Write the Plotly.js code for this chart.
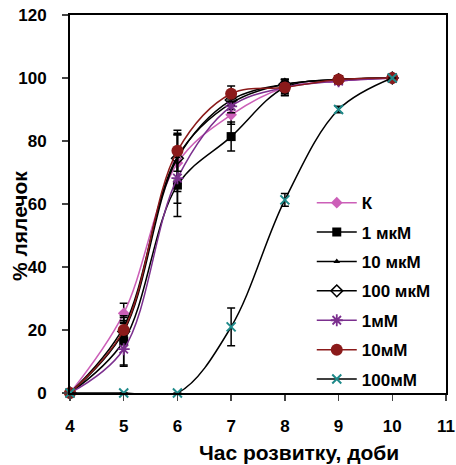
<!DOCTYPE html>
<html>
<head>
<meta charset="utf-8">
<script src="https://cdn.plot.ly/plotly-3.0.1.min.js"></script>
<style>html,body{margin:0;padding:0;background:#fff}#chart{width:456px;height:465px}</style>
</head>
<body>
<div id="chart"></div>
<script>
// Data
const days = [4, 5, 6, 7, 8, 9, 10];
const seriesNames = ['К', '1 мкМ', '10 мкМ', '100 мкМ', '1мМ', '10мМ', '100мМ'];
const valK      = [0, 25.3, 73, 88.3, 97, 99, 100];
const errK      = [0, 3.2, 9, 3, 2, 1, 0];
const val1mkM   = [0, 16.5, 66, 81.4, 97, 99.5, 100];
const err1mkM   = [0, 8, 10, 4.6, 2.5, 1, 0];
const val10mkM  = [0, 21, 75, 92, 98, 99.5, 100];
const err10mkM  = [0, 3, 7, 2, 1.5, 1, 0];
const val100mkM = [0, 19.5, 74.5, 93, 98, 99.5, 100];
const err100mkM = [0, 3, 8, 2, 1.5, 1, 0];
const val1mM    = [0, 13.9, 68.2, 91, 97, 99, 100];
const err1mM    = [0, 5, 8, 2, 1.5, 1, 0];
const val10mM   = [0, 20, 76.9, 95, 97, 99.5, 100];
const err10mM   = [0, 3, 6.5, 2.5, 2.6, 1, 0];
const val100mM  = [0, 0, 0, 21, 61.3, 90, 100];
const err100mM  = [0, 0, 0, 6, 2, 1, 0];
const xTickVals = [4, 5, 6, 7, 8, 9, 10, 11];
const yTickVals = [0, 20, 40, 60, 80, 100, 120];

const values = [valK, val1mkM, val10mkM, val100mkM, val1mM, val10mM, val100mM];
const errors = [errK, err1mkM, err10mkM, err100mkM, err1mM, err10mM, err100mM];
const lineColors = ['#CC5FB8', '#000000', '#000000', '#000000', '#7B2F8E', '#8B1A1A', '#000000'];
const markers = [
  {symbol: 'diamond', size: 9, color: '#CC5FB8'},
  {symbol: 'square', size: 9, color: '#000000'},
  {symbol: 'triangle-up', size: 6, color: '#000000'},
  {symbol: 'diamond-open', size: 9, color: '#000000', line: {width: 1.5, color: '#000000'}},
  {symbol: 'asterisk-open', size: 10, color: '#7B2F8E', line: {width: 1.8, color: '#7B2F8E'}},
  {symbol: 'circle', size: 12, color: '#8B1A1A'},
  {symbol: 'x-thin-open', size: 9, color: '#1F8A8A', line: {width: 2, color: '#1F8A8A'}}
];

const traces = seriesNames.map((name, i) => ({
  type: 'scatter',
  mode: 'lines+markers',
  name: name,
  legendgroup: 'g' + i,
  x: days,
  y: values[i],
  cliponaxis: false,
  line: {color: lineColors[i], width: 1.5, shape: 'spline', smoothing: 1},
  marker: markers[i],
  error_y: {type: 'data', array: errors[i], visible: true, color: '#000000', thickness: 1.5, width: 4}
}));

const font = {family: 'Liberation Sans, Arial, sans-serif', color: '#000', size: 16, weight: 'bold'};

const layout = {
  width: 456, height: 465,
  margin: {l: 70, r: 10, t: 15, b: 72},
  paper_bgcolor: '#fff', plot_bgcolor: '#fff',
  showlegend: true,
  font: font,
  xaxis: {
    range: [4, 11], tickvals: xTickVals, ticks: 'outside', ticklen: 6, tickwidth: 1.5,
    showline: true, linewidth: 2, linecolor: '#000', mirror: true,
    showgrid: false, zeroline: false, ticklabelstandoff: 11,
    tickfont: {family: font.family, size: 17, weight: 'bold', color: '#000'}
  },
  yaxis: {
    range: [0, 120], tickvals: yTickVals, ticks: 'outside', ticklen: 6, tickwidth: 1.5,
    showline: true, linewidth: 2, linecolor: '#000', mirror: true,
    showgrid: false, zeroline: false, ticklabelstandoff: 12,
    tickfont: {family: font.family, size: 17, weight: 'bold', color: '#000'}
  },
  legend: {
    x: 0.643, y: 0.55, xanchor: 'left', yanchor: 'top',
    bgcolor: 'rgba(255,255,255,0)', itemwidth: 40,
    traceorder: 'grouped',
    font: {family: font.family, size: 17, weight: 'bold', color: '#000'},
    tracegroupgap: 4.3
  },
  annotations: [
    {text: 'Час розвитку, доби', xref: 'paper', yref: 'paper', x: (299 - 70) / 376, y: (393 - 452) / 378,
     xanchor: 'center', yanchor: 'middle', showarrow: false,
     font: {family: font.family, size: 21, weight: 'bold', color: '#000'}},
    {text: '% лялечок', xref: 'paper', yref: 'paper', x: (20 - 70) / 376, y: (393 - 226) / 378,
     xanchor: 'center', yanchor: 'middle', textangle: -90, showarrow: false,
     font: {family: font.family, size: 21, weight: 'bold', color: '#000'}}
  ]
};

Plotly.newPlot('chart', traces, layout, {displayModeBar: false, staticPlot: true});
</script>
</body>
</html>
